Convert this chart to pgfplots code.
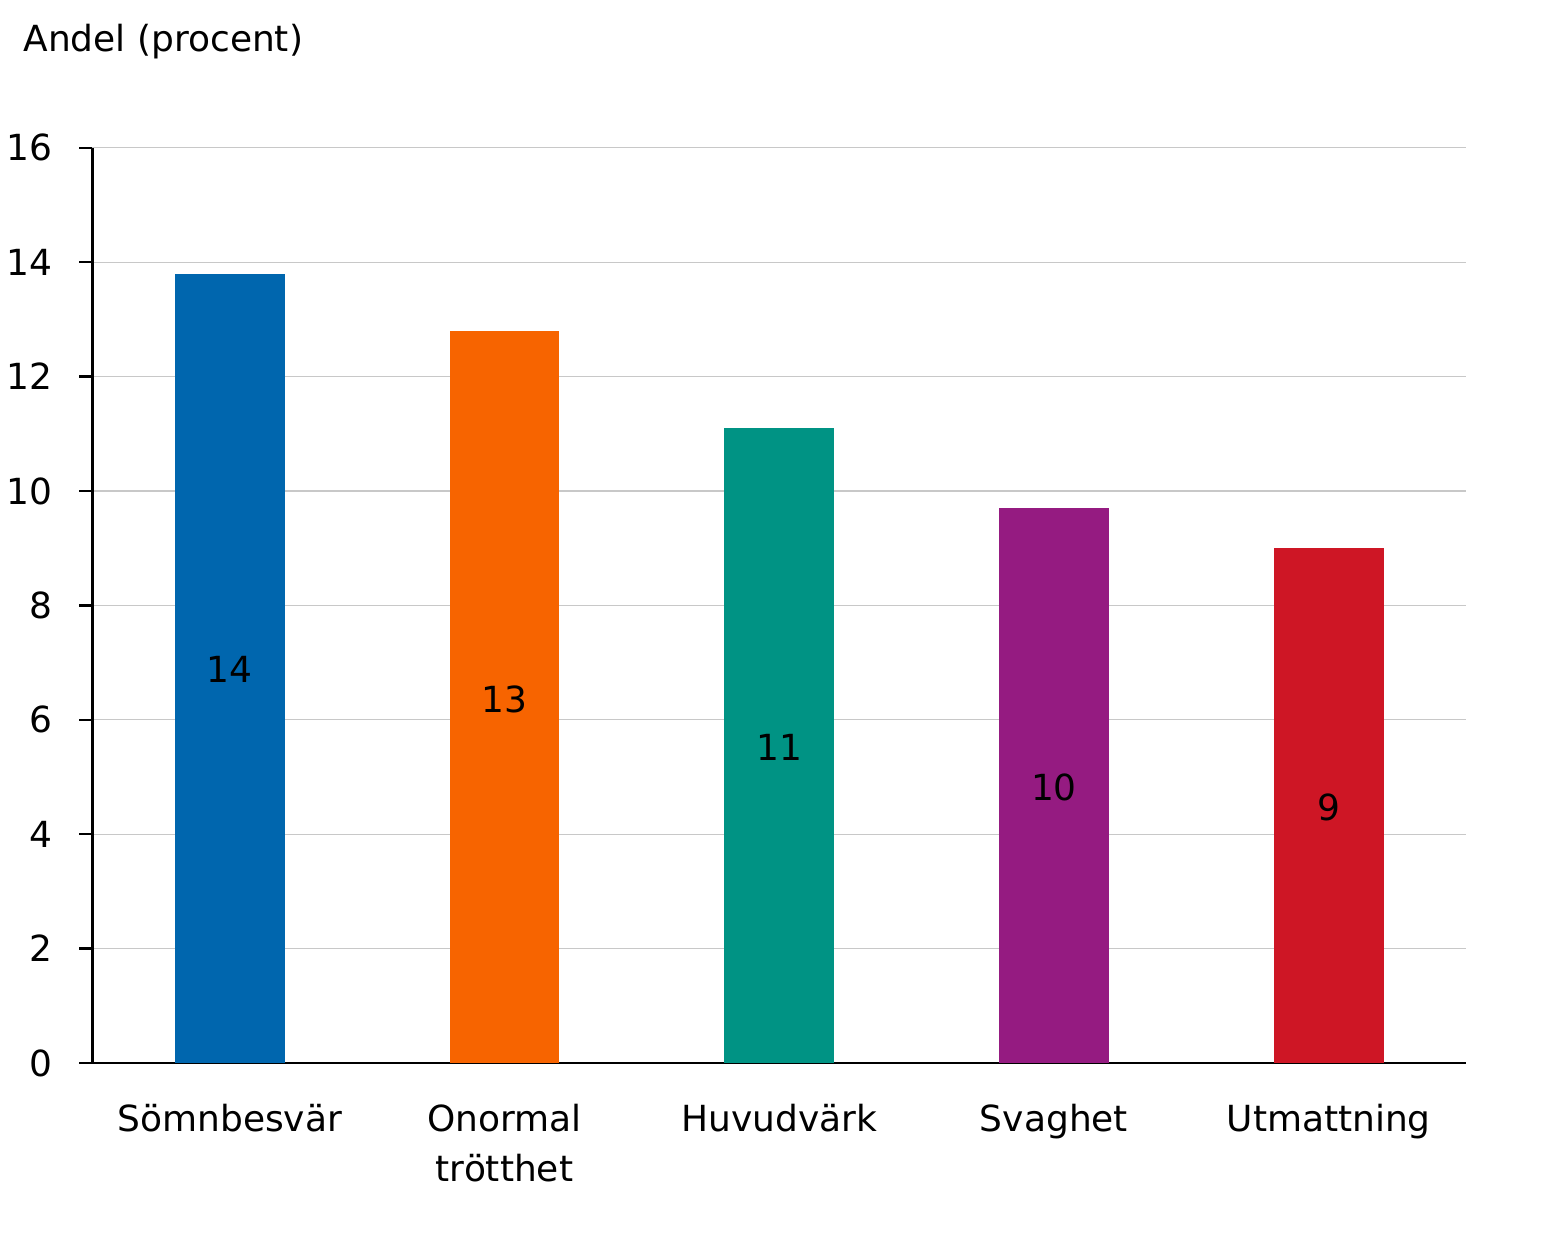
\documentclass[border=0pt]{standalone}
\usepackage{pgfplots}
\pgfplotsset{compat=1.18}
\usepackage{fontspec}
\setmainfont{DejaVu Sans}

\definecolor{cblue}{HTML}{0066AE}
\definecolor{corange}{HTML}{F76400}
\definecolor{cteal}{HTML}{009384}
\definecolor{cpurple}{HTML}{951B81}
\definecolor{cred}{HTML}{CE1625}
\definecolor{gridgray}{HTML}{C8C8C8}

\begin{document}
\begin{tikzpicture}[font=\fontsize{18}{25}\selectfont]
	\begin{axis}[
		at={(0,0)}, anchor=south west,
		scale only axis,
		width=687.5pt, height=458pt,
		xmin=-0.5, xmax=4.5,
		ymin=0, ymax=16,
		ytick={0,2,...,16},
		xtick={0,1,2,3,4},
		xticklabels={Sömnbesvär, {Onormal\\trötthet}, Huvudvärk, Svaghet, Utmattning},
		xticklabel style={align=center, yshift=-17pt},
		major x tick style={draw=none},
		ytick align=outside,
		major tick length=6.5pt,
		yticklabel style={xshift=-10pt},
		/pgf/number format/assume math mode=true,
		ymajorgrids,
		major grid style={gridgray, line width=0.6pt},
		axis x line*=bottom,
		axis y line*=left,
		axis line style={black, line width=1.2pt, -},
		tick style={black, line width=1.2pt},
		clip=false,
		]
		\addplot[ybar, bar width=55pt, fill=cblue, draw=none] coordinates {(0,13.8)};
		\addplot[ybar, bar width=55pt, fill=corange, draw=none] coordinates {(1,12.8)};
		\addplot[ybar, bar width=55pt, fill=cteal, draw=none] coordinates {(2,11.1)};
		\addplot[ybar, bar width=55pt, fill=cpurple, draw=none] coordinates {(3,9.7)};
		\addplot[ybar, bar width=55pt, fill=cred, draw=none] coordinates {(4,9.0)};
		% value labels, placed at mid-bar height
		\addplot[draw=none, mark=none, nodes near coords, point meta=explicit symbolic,
			nodes near coords style={anchor=center, black}]
			coordinates {(0,6.88)[14] (1,6.36)[13] (2,5.52)[11] (3,4.82)[10] (4,4.47)[9]};
		\node[anchor=west] at ([xshift=-38pt, yshift=53pt]rel axis cs:0,1) {Andel (procent)};
	\end{axis}
	\path (-45.5pt,-92pt) rectangle (731.5pt,532pt);
\end{tikzpicture}
\end{document}
